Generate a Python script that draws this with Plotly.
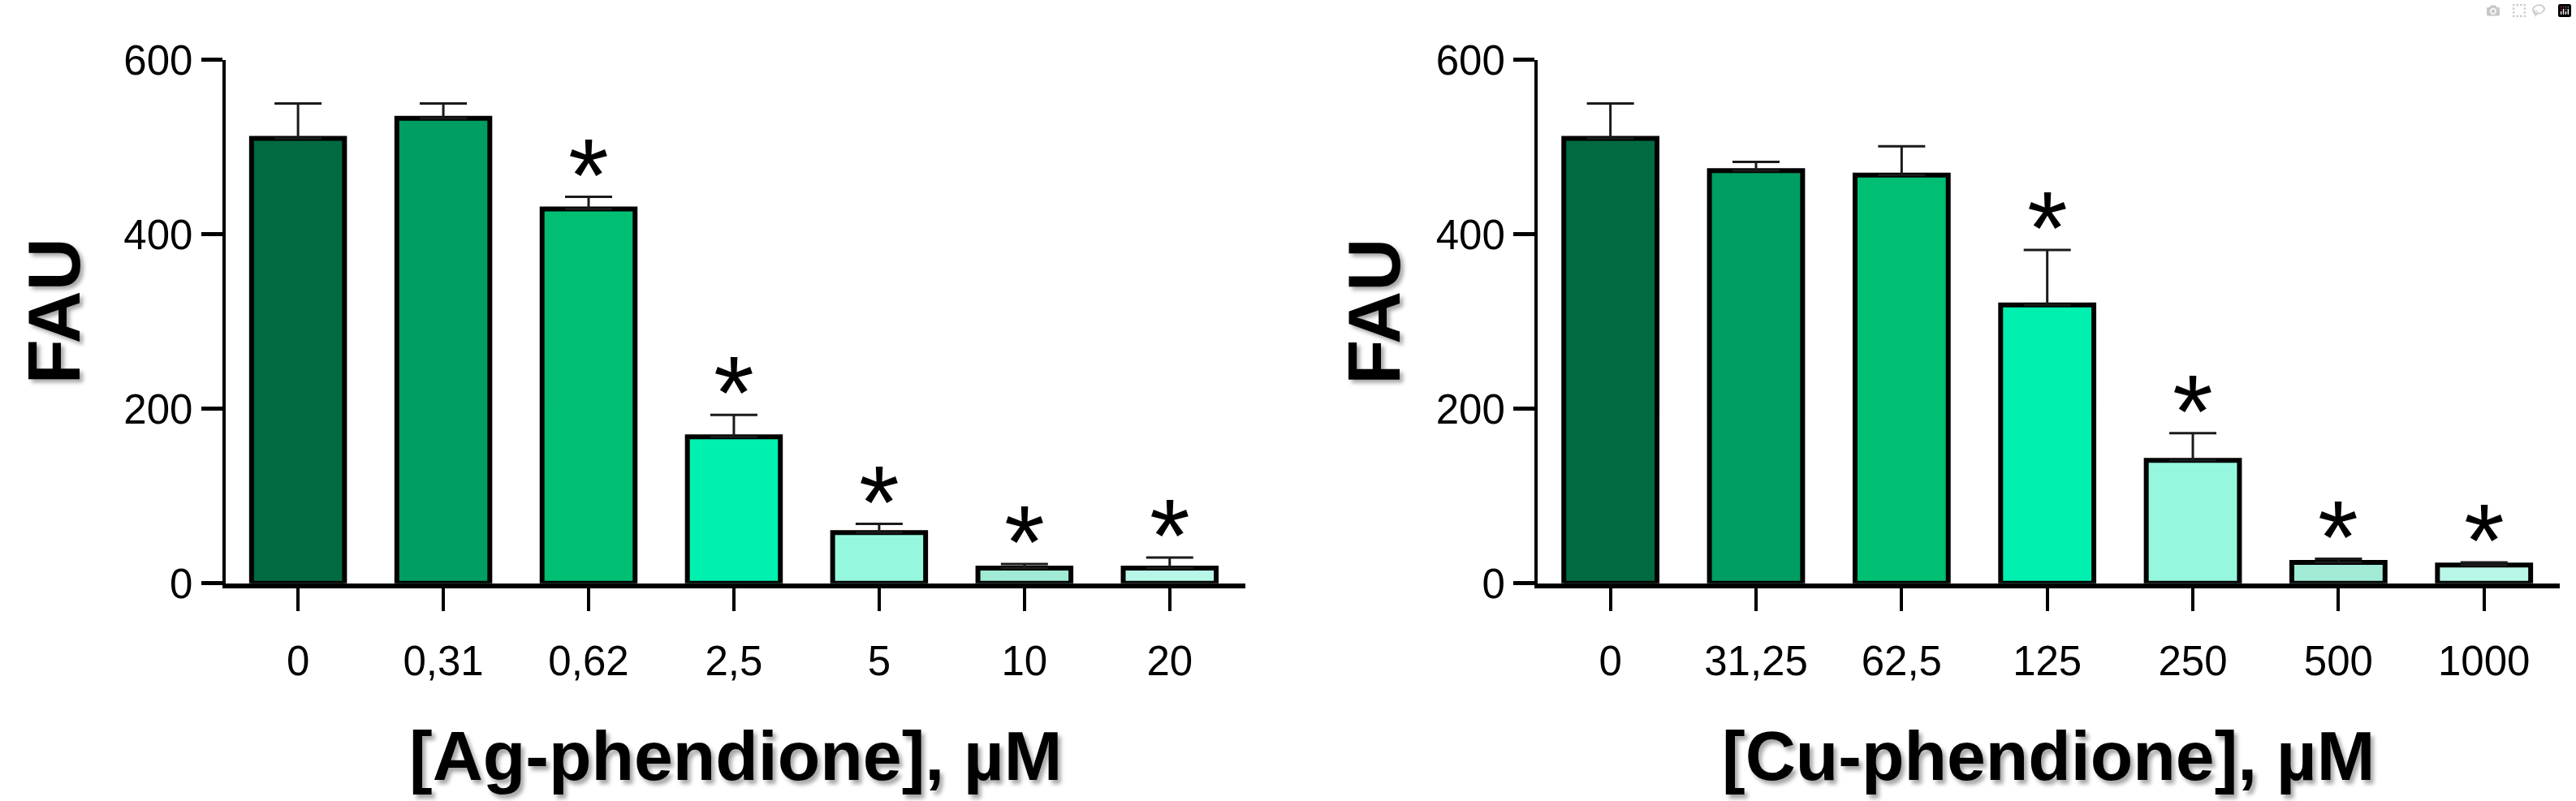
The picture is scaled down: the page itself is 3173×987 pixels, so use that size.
import plotly.graph_objects as go

# ---------------- data ----------------
ag_labels = ["0", "0,31", "0,62", "2,5", "5", "10", "20"]
ag_mean = [510, 533, 429, 168, 58, 17.5, 17.5]
ag_err = [40, 17, 14, 25, 10, 4.5, 12]
ag_sig = [False, False, True, True, True, True, True]

cu_labels = ["0", "31,25", "62,5", "125", "250", "500", "1000"]
cu_mean = [510, 473, 468, 319, 141, 24, 21]
cu_err = [40, 10, 33, 63, 31, 4, 3]
cu_sig = [False, False, False, True, True, True, True]

bar_colors = ["#006B40", "#009E62", "#00BF73", "#00F0B0", "#96F7DF", "#A0EAD6", "#B8F7E8"]

y_ticks = [0, 200, 400, 600]
x_titles = ["[Ag-phendione], µM", "[Cu-phendione], µM"]
y_title = "FAU"

TICK_FONT = dict(family="Liberation Sans, Arial, sans-serif", size=51, color="black")
TITLE_FONT = dict(family="Liberation Sans, Arial, sans-serif", size=86, color="black",
                  weight="bold", shadow="4px 5px 5px rgba(0,0,0,0.35)")
YTITLE_FONT = dict(family="Liberation Sans Narrow, Arial Narrow, Liberation Sans, sans-serif",
                   size=90, color="black", weight="bold", shadow="-4px 4px 5px rgba(0,0,0,0.35)")
STAR_FONT = dict(family="Liberation Sans, Arial, sans-serif", size=128, color="black")

fig = go.Figure()

panels = [
    (ag_labels, ag_mean, ag_err, ag_sig, "x", "y", [0.0875, 0.4834], 0.0211),
    (cu_labels, cu_mean, cu_err, cu_sig, "x2", "y2", [0.5969, 0.9937], 0.5337),
]

annotations = []
layout_axes = {}
for i, (labels, mean, err, sig, xa, ya, dom, ytx) in enumerate(panels):
    pos = list(range(len(labels)))
    fig.add_trace(go.Bar(
        x=pos, y=mean, xaxis=xa, yaxis=ya, width=0.64,
        marker=dict(color=bar_colors, line=dict(color="black", width=6)),
        error_y=dict(type="data", symmetric=False, array=err, arrayminus=[0] * len(err),
                     color="#1a1a1a", thickness=3, width=29),
        showlegend=False, hoverinfo="skip",
    ))
    for p, m, e, s in zip(pos, mean, err, sig):
        if s:
            annotations.append(dict(
                x=p, y=m + e, xref=xa, yref=ya, text="*", showarrow=False,
                xanchor="center", yanchor="bottom", yshift=-46, font=STAR_FONT,
            ))
    annotations.append(dict(
        x=(dom[0] + dom[1]) / 2, y=0.083, xref="paper", yref="paper",
        text=x_titles[i], showarrow=False, xanchor="center", yanchor="top", font=TITLE_FONT,
    ))
    annotations.append(dict(
        x=ytx, y=0.618, xref="paper", yref="paper", text=y_title, textangle=-90,
        showarrow=False, xanchor="center", yanchor="middle", font=YTITLE_FONT,
    ))
    xname = "xaxis" if i == 0 else "xaxis2"
    yname = "yaxis" if i == 0 else "yaxis2"
    layout_axes[xname] = dict(
        domain=dom, anchor=ya, range=[-0.5, 6.52], tickvals=pos, ticktext=labels,
        showline=True, linewidth=6, linecolor="black",
        ticks="outside", ticklen=28, tickwidth=4, tickcolor="black", tickfont=TICK_FONT,
        ticklabelstandoff=18, showgrid=False, zeroline=False, fixedrange=True,
    )
    layout_axes[yname] = dict(
        domain=[0.2573, 0.9508], anchor=xa, range=[0, 600], tickvals=y_ticks,
        showline=True, linewidth=4, linecolor="black",
        ticks="outside", ticklen=26, tickwidth=5, tickcolor="black", tickfont=TICK_FONT,
        showgrid=False, zeroline=False, fixedrange=True,
    )

fig.update_layout(
    width=3173, height=987,
    margin=dict(l=0, r=0, t=0, b=0),
    paper_bgcolor="white", plot_bgcolor="white",
    annotations=annotations,
    **layout_axes,
)

fig.write_html("out.html", post_script="document.body.style.margin='0';")
